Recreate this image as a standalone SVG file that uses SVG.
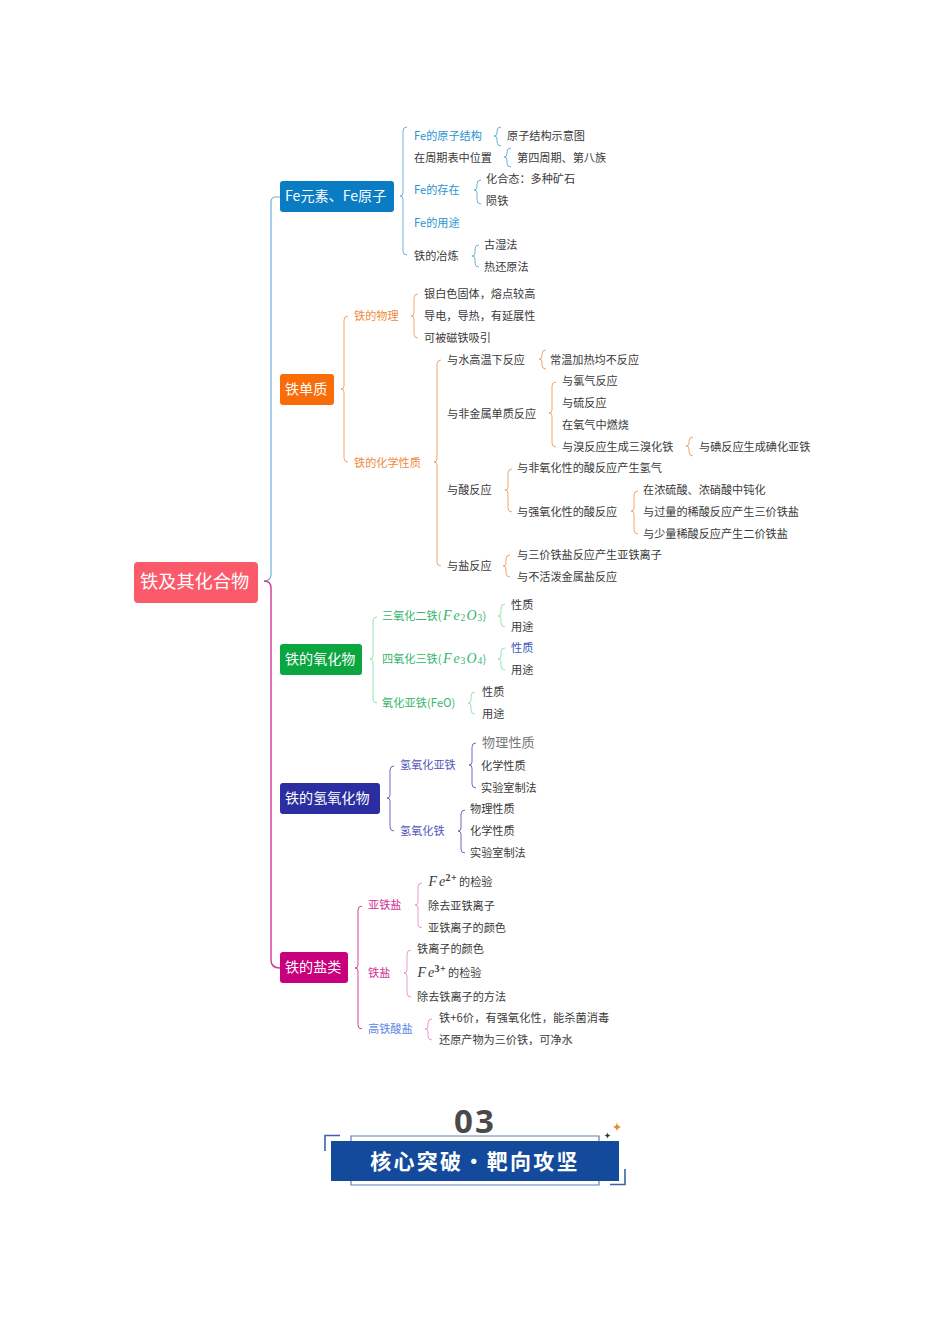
<svg xmlns="http://www.w3.org/2000/svg" width="950" height="1344" viewBox="0 0 950 1344">
<style>
text{font-family:"Noto Sans CJK SC","Noto Sans",sans-serif;font-size:11.15px;fill:#3a3a3a;dominant-baseline:central}
.n{font-size:14.1px;fill:#fff}
.l{fill:none;stroke-width:1}
.bl{stroke:#6db3dc}.or{stroke:#f4a66c}.gr{stroke:#9be3b0}.nv{stroke:#6a6cc0}.mg{stroke:#d8409c}.pk{stroke:#e89ccc}
.tb{fill:#2a93d2}.to{fill:#f08a40}.tg{fill:#35b56c}.tn{fill:#5557b8}.tm{fill:#d4309a}.ti{fill:#6088e8}
.m{font-family:"Liberation Serif",serif;font-style:italic;font-size:14px}
.s{font-family:"Liberation Serif",serif;font-size:9.500px}
.sb{font-family:"Liberation Serif",serif;font-size:10px;font-weight:bold}
</style>
<rect width="950" height="1344" fill="#fff"/>
<g id="connectors">
<path class="l" style="stroke-width:1.2" stroke="#6db3dc" d="M280 197H276q-5 0-5 5V574q0 7-7 7"/>
<path class="l" style="stroke-width:1.4" stroke="#cc3a98" d="M264 581q7 0 7 7V960q0 8 9 8"/>
<path class="l bl" d="M407 127q-4 0-4 4V193q0 3-3 3q3 0 3 3V251q0 4 4 4"/>
<path class="l bl" d="M501 127q-4 0-4 4V133q0 3-3 3q3 0 3 3V142q0 4 4 4"/>
<path class="l bl" d="M511 148q-4 0-4 4V154q0 3-3 3q3 0 3 3V163q0 4 4 4"/>
<path class="l bl" d="M481 180q-4 0-4 4V187q0 3-3 3q3 0 3 3V200q0 4 4 4"/>
<path class="l bl" d="M479 245q-4 0-4 4V253q0 3-3 3q3 0 3 3V263q0 4 4 4"/>
<path class="l or" d="M348 316q-4 0-4 4V386q0 3-3 3q3 0 3 3V458q0 4 4 4"/>
<path class="l or" d="M418 294q-4 0-4 4V313q0 3-3 3q3 0 3 3V334q0 4 4 4"/>
<path class="l or" d="M441 360q-4 0-4 4V459q0 3-3 3q3 0 3 3V562q0 4 4 4"/>
<path class="l or" d="M546 350q-4 0-4 4V356q0 3-3 3q3 0 3 3V365q0 4 4 4"/>
<path class="l or" d="M556 382q-4 0-4 4V410q0 3-3 3q3 0 3 3V443q0 4 4 4"/>
<path class="l or" d="M693 437q-4 0-4 4V443q0 3-3 3q3 0 3 3V452q0 4 4 4"/>
<path class="l or" d="M512 469q-4 0-4 4V487q0 3-3 3q3 0 3 3V508q0 4 4 4"/>
<path class="l or" d="M638 491q-4 0-4 4V508q0 3-3 3q3 0 3 3V530q0 4 4 4"/>
<path class="l or" d="M510 555q-4 0-4 4V563q0 3-3 3q3 0 3 3V573q0 4 4 4"/>
<path class="l gr" d="M377 617q-4 0-4 4V656q0 3-3 3q3 0 3 3V699q0 4 4 4"/>
<path class="l gr" d="M505 604q-4 0-4 4V613q0 3-3 3q3 0 3 3V623q0 4 4 4"/>
<path class="l gr" d="M505 648q-4 0-4 4V656q0 3-3 3q3 0 3 3V666q0 4 4 4"/>
<path class="l gr" d="M475 692q-4 0-4 4V700q0 3-3 3q3 0 3 3V710q0 4 4 4"/>
<path class="l nv" d="M394 766q-4 0-4 4V795q0 3-3 3q3 0 3 3V827q0 4 4 4"/>
<path class="l nv" d="M476 743q-4 0-4 4V762q0 3-3 3q3 0 3 3V784q0 4 4 4"/>
<path class="l nv" d="M465 810q-4 0-4 4V828q0 3-3 3q3 0 3 3V849q0 4 4 4"/>
<path class="l mg" d="M362 906q-4 0-4 4V965q0 3-3 3q3 0 3 3V1025q0 4 4 4"/>
<path class="l pk" d="M422 883q-4 0-4 4V902q0 3-3 3q3 0 3 3V924q0 4 4 4"/>
<path class="l pk" d="M411 950q-4 0-4 4V970q0 3-3 3q3 0 3 3V993q0 4 4 4"/>
<path class="l pk" d="M432 1019q-4 0-4 4V1026q0 3-3 3q3 0 3 3V1036q0 4 4 4"/>
</g>
<g id="root"><rect x="134" y="562" width="124" height="41" rx="4" fill="#fb5a6a"/><text x="140" y="580" style="font-size:18.2px;fill:#fff">铁及其化合物</text></g>
<g id="n-fe"><rect x="280" y="181" width="114" height="31" rx="3" fill="#0a7cc4"/><text class="n" x="285" y="195">Fe元素、Fe原子</text></g>
<g id="n-single"><rect x="280" y="374" width="54" height="31" rx="3" fill="#fa6c08"/><text class="n" x="285" y="388">铁单质</text></g>
<g id="n-oxide"><rect x="280" y="644" width="82" height="31" rx="3" fill="#0aa640"/><text class="n" x="285" y="658">铁的氧化物</text></g>
<g id="n-hydroxide"><rect x="280" y="783" width="100" height="31" rx="3" fill="#2a2ea0"/><text class="n" x="285" y="797">铁的氢氧化物</text></g>
<g id="n-salt"><rect x="280" y="952" width="68" height="31" rx="3" fill="#c8007e"/><text class="n" x="285" y="966">铁的盐类</text></g>
<g id="t1"><text class="tb" x="414" y="135">Fe的原子结构</text></g>
<g id="t2"><text x="507" y="135">原子结构示意图</text></g>
<g id="t3"><text x="414" y="156.500">在周期表中位置</text></g>
<g id="t4"><text x="517" y="156.500">第四周期、第八族</text></g>
<g id="t5"><text class="tb" x="414" y="189">Fe的存在</text></g>
<g id="t6"><text x="486" y="178">化合态：多种矿石</text></g>
<g id="t7"><text x="486" y="200">陨铁</text></g>
<g id="t8"><text class="tb" x="414" y="222">Fe的用途</text></g>
<g id="t9"><text x="414" y="255">铁的冶炼</text></g>
<g id="t10"><text x="484" y="244">古湿法</text></g>
<g id="t11"><text x="484" y="265.500">热还原法</text></g>
<g id="t12"><text class="to" x="354" y="315">铁的物理</text></g>
<g id="t13"><text x="424" y="293">银白色固体，熔点较高</text></g>
<g id="t14"><text x="424" y="315">导电，导热，有延展性</text></g>
<g id="t15"><text x="424" y="337">可被磁铁吸引</text></g>
<g id="t16"><text class="to" x="354" y="462">铁的化学性质</text></g>
<g id="t17"><text x="447" y="359">与水高温下反应</text></g>
<g id="t18"><text x="550" y="359">常温加热均不反应</text></g>
<g id="t19"><text x="447" y="413">与非金属单质反应</text></g>
<g id="t20"><text x="562" y="380">与氯气反应</text></g>
<g id="t21"><text x="562" y="402">与硫反应</text></g>
<g id="t22"><text x="562" y="424">在氧气中燃烧</text></g>
<g id="t23"><text x="562" y="446">与溴反应生成三溴化铁</text></g>
<g id="t24"><text x="699" y="446">与碘反应生成碘化亚铁</text></g>
<g id="t25"><text x="447" y="489">与酸反应</text></g>
<g id="t26"><text x="517" y="467">与非氧化性的酸反应产生氢气</text></g>
<g id="t27"><text x="517" y="511">与强氧化性的酸反应</text></g>
<g id="t28"><text x="643" y="489">在浓硫酸、浓硝酸中钝化</text></g>
<g id="t29"><text x="643" y="511">与过量的稀酸反应产生三价铁盐</text></g>
<g id="t30"><text x="643" y="533">与少量稀酸反应产生二价铁盐</text></g>
<g id="t31"><text x="447" y="565">与盐反应</text></g>
<g id="t32"><text x="517" y="554">与三价铁盐反应产生亚铁离子</text></g>
<g id="t33"><text x="517" y="576">与不活泼金属盐反应</text></g>
<g id="t34"><text class="tg" x="382" y="615">三氧化二铁(<tspan class="m tg" x="443">F</tspan><tspan class="m tg" x="453.500">e</tspan><tspan class="s tg" x="460.500" dy="2.500">2</tspan><tspan class="m tg" x="466.500" dy="-2.500">O</tspan><tspan class="s tg" x="477.500" dy="2.500">3</tspan><tspan x="482.500" dy="-2.500">)</tspan></text></g>
<g id="t35"><text x="511" y="604">性质</text></g>
<g id="t36"><text x="511" y="626">用途</text></g>
<g id="t37"><text class="tg" x="382" y="658">四氧化三铁(<tspan class="m tg" x="443">F</tspan><tspan class="m tg" x="453.500">e</tspan><tspan class="s tg" x="460.500" dy="2.500">3</tspan><tspan class="m tg" x="466.500" dy="-2.500">O</tspan><tspan class="s tg" x="477.500" dy="2.500">4</tspan><tspan x="482.500" dy="-2.500">)</tspan></text></g>
<g id="t38"><text x="511" y="647" style="fill:#3a5ab8">性质</text></g>
<g id="t39"><text x="511" y="669">用途</text></g>
<g id="t40"><text class="tg" x="382" y="702" style="letter-spacing:.1px">氧化亚铁(FeO)</text></g>
<g id="t41"><text x="482" y="691">性质</text></g>
<g id="t42"><text x="482" y="713">用途</text></g>
<g id="t43"><text class="tn" x="400" y="764">氢氧化亚铁</text></g>
<g id="t44"><text x="482" y="741" style="font-size:13px;fill:#777;letter-spacing:.2px">物理性质</text></g>
<g id="t45"><text x="481" y="765">化学性质</text></g>
<g id="t46"><text x="481" y="787">实验室制法</text></g>
<g id="t47"><text class="tn" x="400" y="830">氢氧化铁</text></g>
<g id="t48"><text x="470" y="808">物理性质</text></g>
<g id="t49"><text x="470" y="830">化学性质</text></g>
<g id="t50"><text x="470" y="852">实验室制法</text></g>
<g id="t51"><text class="tm" x="368" y="904">亚铁盐</text></g>
<g id="t52"><text x="428" y="881"><tspan class="m" x="428.500">F</tspan><tspan class="m" x="439">e</tspan><tspan class="sb" x="445.500" dy="-4">2</tspan><tspan class="sb" x="451">+</tspan><tspan x="459" dy="4">的检验</tspan></text></g>
<g id="t53"><text x="428" y="905">除去亚铁离子</text></g>
<g id="t54"><text x="428" y="927">亚铁离子的颜色</text></g>
<g id="t55"><text class="tm" x="368" y="972">铁盐</text></g>
<g id="t56"><text x="417" y="948">铁离子的颜色</text></g>
<g id="t57"><text x="417" y="972"><tspan class="m" x="417.500">F</tspan><tspan class="m" x="428">e</tspan><tspan class="sb" x="434.500" dy="-4">3</tspan><tspan class="sb" x="440">+</tspan><tspan x="448" dy="4">的检验</tspan></text></g>
<g id="t58"><text x="417" y="996">除去铁离子的方法</text></g>
<g id="t59"><text class="ti" x="368" y="1028">高铁酸盐</text></g>
<g id="t60"><text x="439" y="1017" style="letter-spacing:.12px">铁+6价，有强氧化性，能杀菌消毒</text></g>
<g id="t61"><text x="439" y="1039">还原产物为三价铁，可净水</text></g>
<g id="banner">
<path d="M351 1141V1136H599V1141M351 1181V1185H599V1181" fill="none" stroke="#5a80bc" stroke-width="1.2"/>
<path d="M325 1151V1135.500H340M610 1184.500H625V1169" fill="none" stroke="#3a62a8" stroke-width="1.6"/>
<rect x="331" y="1141" width="288" height="40" fill="#134a9c"/>
<text x="475" y="1120" text-anchor="middle" style="font-size:33px;font-weight:bold;fill:#4a4a4a;font-family:'Noto Sans','Open Sans',sans-serif;letter-spacing:2px">03</text>
<text x="475" y="1160" text-anchor="middle" style="font-size:21px;font-weight:bold;fill:#fff;letter-spacing:2.300px">核心突破・靶向攻坚</text>
<path d="M617 1122q0 4 4 5q-4 1-4 5q0-4-4-5q4-1 4-5z" fill="#e09030"/>
<path d="M607.500 1132q0 3 3 3.500q-3 .5-3 3.500q0-3-3-3.500q3-.5 3-3.500z" fill="#333"/>
</g>
</svg>
